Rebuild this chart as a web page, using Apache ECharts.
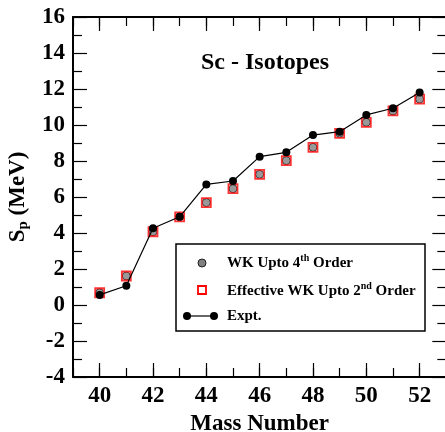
<!DOCTYPE html>
<html>
<head>
<meta charset="utf-8">
<script src="https://cdn.jsdelivr.net/npm/echarts@6/dist/echarts.min.js"></script>
<style>html,body{margin:0;padding:0;background:#fff;}#c{width:445px;height:432px;}</style>
</head>
<body>
<div id="c"></div>
<script>
var massNumbers = [40, 41, 42, 43, 44, 45, 46, 47, 48, 49, 50, 51, 52];
var wk4 = [0.68, 1.61, 4.07, 4.9, 5.69, 6.46, 7.26, 8.02, 8.76, 9.54, 10.15, 10.78, 11.44];
var effWk2 = [0.68, 1.61, 4.07, 4.9, 5.69, 6.46, 7.26, 8.02, 8.76, 9.54, 10.15, 10.78, 11.44];
var expt = [0.56, 1.07, 4.26, 4.9, 6.7, 6.89, 8.24, 8.48, 9.44, 9.63, 10.56, 10.93, 11.8];
var xMajorTicks = [40, 42, 44, 46, 48, 50, 52];

function pairs(xs, ys) { return xs.map(function (x, i) { return [x, ys[i]]; }); }

var F = '"Liberation Serif", "DejaVu Serif", serif';
function axisLine(show) { return { show: show, onZero: false, lineStyle: { color: '#000', width: 2 } }; }
function tick(len) { return { show: true, inside: true, length: len, lineStyle: { color: '#000', width: 1.2 } }; }
function minor() { return { show: true, splitNumber: 2, length: 9, lineStyle: { color: '#000', width: 1.2 } }; }

function xTickAxis(pos, major, labels) {
  var ax = {
    type: 'value', min: 39, max: 53, interval: 1, position: pos,
    axisLine: axisLine(!major), splitLine: { show: false },
    axisTick: tick(major ? 14 : 9),
    axisLabel: { show: false }
  };
  if (major) ax.axisTick.customValues = xMajorTicks;
  if (labels) {
    ax.axisLabel = {
      show: true, margin: 8, fontFamily: F, fontWeight: 'bold', fontSize: 23, color: '#000',
      customValues: xMajorTicks,
      formatter: function (v) { return (v % 2 === 0) ? String(v) : ''; }
    };
    ax.name = 'Mass Number';
    ax.nameLocation = 'middle';
    ax.nameGap = 36;
    ax.nameTextStyle = { fontFamily: F, fontWeight: 'bold', fontSize: 23, color: '#000' };
  }
  return ax;
}

var chart = echarts.init(document.getElementById('c'), null, { renderer: 'canvas' });
chart.setOption({
  animation: false,
  backgroundColor: '#fff',
  title: {
    text: 'Sc - Isotopes', left: 260, top: 46, textAlign: 'center',
    textStyle: { fontFamily: F, fontWeight: 'bold', fontSize: 24, color: '#000' }
  },
  grid: { left: 73, top: 17, width: 373.3, height: 360, containLabel: false, outerBoundsMode: 'none' },
  xAxis: [
    xTickAxis('bottom', false, true),
    xTickAxis('bottom', true, false),
    xTickAxis('top', false, false),
    xTickAxis('top', true, false)
  ],
  yAxis: [{
    type: 'value', min: -4, max: 16, interval: 2, position: 'left',
    axisLine: axisLine(true), axisTick: tick(14), minorTick: minor(), splitLine: { show: false },
    axisLabel: { margin: 8, fontFamily: F, fontWeight: 'bold', fontSize: 23, color: '#000' },
    name: '{a|S}{b|p}{a| (MeV)}', nameLocation: 'middle', nameRotate: 90, nameGap: 38,
    nameTextStyle: {
      fontFamily: F, fontWeight: 'bold', fontSize: 23, color: '#000',
      rich: {
        a: { fontFamily: F, fontWeight: 'bold', fontSize: 23, color: '#000' },
        b: { fontFamily: F, fontWeight: 'bold', fontSize: 15, color: '#000', padding: [12, 0, 0, 0] }
      }
    }
  }, {
    type: 'value', min: -4, max: 16, interval: 2, position: 'right',
    axisLine: axisLine(true), axisTick: tick(14), minorTick: minor(), splitLine: { show: false },
    axisLabel: { show: false }
  }],
  series: [{
    name: 'WK Upto 4th Order', type: 'scatter', xAxisIndex: 0, yAxisIndex: 0,
    data: pairs(massNumbers, wk4), symbol: 'circle', symbolSize: 8, z: 2,
    itemStyle: { color: '#808080', borderColor: '#222', borderWidth: 1 }
  }, {
    name: 'Effective WK Upto 2nd Order', type: 'scatter', xAxisIndex: 0, yAxisIndex: 0,
    data: pairs(massNumbers, effWk2), symbol: 'rect', symbolSize: 9, z: 3,
    itemStyle: { color: 'rgba(0,0,0,0)', borderColor: '#ff0000', borderWidth: 1.8 }
  }, {
    name: 'Expt.', type: 'line', xAxisIndex: 0, yAxisIndex: 0,
    data: pairs(massNumbers, expt), symbol: 'circle', symbolSize: 8, showAllSymbol: true, z: 4,
    lineStyle: { color: '#000', width: 1.2 },
    itemStyle: { color: '#000', borderColor: '#000', borderWidth: 0 }
  }],
  graphic: [{
    type: 'group', z: 100,
    children: [
      { type: 'rect', shape: { x: 176, y: 244, width: 249, height: 87 },
        style: { fill: '#fff', stroke: '#000', lineWidth: 1.5 } },
      { type: 'circle', shape: { cx: 202, cy: 263, r: 4 },
        style: { fill: '#808080', stroke: '#222', lineWidth: 1 } },
      { type: 'text', x: 227, y: 263,
        style: { text: '{a|WK Upto 4}{s|th}{a| Order}', verticalAlign: 'middle', fill: '#000',
          rich: { a: { fontFamily: F, fontWeight: 'bold', fontSize: 15 },
                  s: { fontFamily: F, fontWeight: 'bold', fontSize: 10, padding: [0, 0, 10, 0] } } } },
      { type: 'rect', shape: { x: 198, y: 286, width: 8, height: 8 },
        style: { fill: '#fff', stroke: '#ff0000', lineWidth: 1.8 } },
      { type: 'text', x: 227, y: 291,
        style: { text: '{a|Effective WK Upto 2}{s|nd}{a| Order}', verticalAlign: 'middle', fill: '#000',
          rich: { a: { fontFamily: F, fontWeight: 'bold', fontSize: 15 },
                  s: { fontFamily: F, fontWeight: 'bold', fontSize: 10, padding: [0, 0, 10, 0] } } } },
      { type: 'line', shape: { x1: 187, y1: 316, x2: 214, y2: 316 },
        style: { stroke: '#000', lineWidth: 1.2 } },
      { type: 'circle', shape: { cx: 187, cy: 316, r: 4 }, style: { fill: '#000' } },
      { type: 'circle', shape: { cx: 214, cy: 316, r: 4 }, style: { fill: '#000' } },
      { type: 'text', x: 227, y: 316,
        style: { text: 'Expt.', verticalAlign: 'middle', fill: '#000',
          font: 'bold 15px ' + F } }
    ]
  }]
});
</script>
</body>
</html>
